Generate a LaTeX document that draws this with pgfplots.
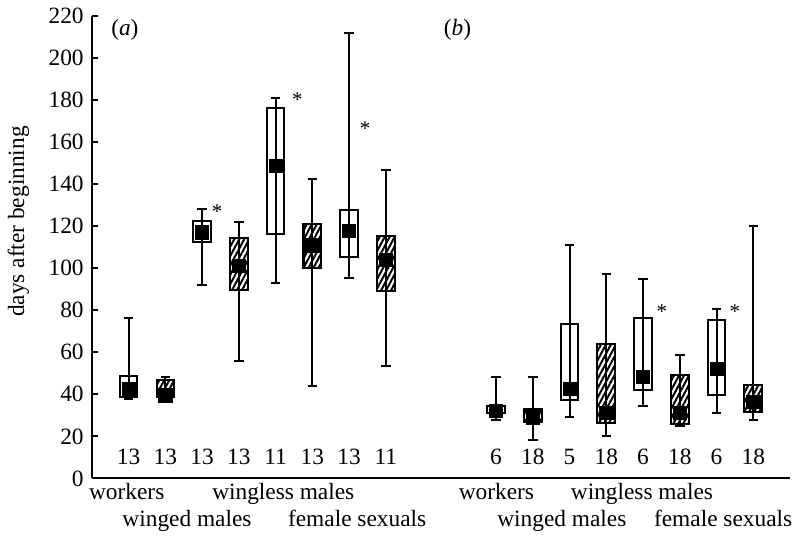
\documentclass[border=0pt]{standalone}
\usepackage{fontspec}
\setmainfont{Liberation Serif}
\usepackage{pgfplots}
\pgfplotsset{compat=1.18}
\usepgfplotslibrary{statistics}
\usetikzlibrary{patterns.meta}
\pgfplotsset{
  openbox/.style={black, line width=1bp, solid, boxplot/every box/.style={fill=none}},
  hatchbox/.style={black, line width=1bp, solid,
    boxplot/every box/.style={pattern={Lines[angle=62,distance=2.2pt,line width=1pt]}}},
  midline/.style={black, line width=1bp, solid, mark=none, forget plot},
}
\begin{document}
\fontsize{11.7}{14}\selectfont
\begin{tikzpicture}
\begin{axis}[
  scale only axis, width=348.5bp, height=231bp,
  xmin=0, xmax=19, ymin=0, ymax=220,
  axis lines*=left,
  axis line style={line width=1bp},
  xtick=\empty,
  ytick={0,20,...,220},
  tick align=inside,
  major tick length=3bp,
  tick style={line width=1bp, black},
  font=\fontsize{11.7}{14}\selectfont,
  ticklabel style={font=\fontsize{11.7}{14}\selectfont},
  /pgf/number format/assume math mode=true,
  ylabel={days after beginning},
  ylabel style={at={(axis description cs:-0.105,0.555)}, anchor=center},
  clip=false,
  boxplot/draw direction=y,
  boxplot/box extend=0.48,
  boxplot/whisker extend=0.26,
  boxplot/draw/median/.code={},
]
% ---- panel (a)
\addplot[openbox, boxplot prepared={draw position=1, lower whisker=37.8, lower quartile=38.6, median=42.5, upper quartile=48.6, upper whisker=76.3}] coordinates {};
\addplot[hatchbox, boxplot prepared={draw position=2, lower whisker=38.6, lower quartile=38.8, median=39.5, upper quartile=47, upper whisker=48}] coordinates {};
\addplot[openbox, boxplot prepared={draw position=3, lower whisker=92.2, lower quartile=112.4, median=117, upper quartile=122.2, upper whisker=128}] coordinates {};
\addplot[hatchbox, boxplot prepared={draw position=4, lower whisker=55.6, lower quartile=89.7, median=101, upper quartile=114.1, upper whisker=122}] coordinates {};
\addplot[openbox, boxplot prepared={draw position=5, lower whisker=93, lower quartile=116, median=148.4, upper quartile=175.9, upper whisker=181}] coordinates {};
\addplot[hatchbox, boxplot prepared={draw position=6, lower whisker=44.1, lower quartile=100.1, median=110.8, upper quartile=121.1, upper whisker=142.2}] coordinates {};
\addplot[openbox, boxplot prepared={draw position=7, lower whisker=95.2, lower quartile=105.2, median=117.6, upper quartile=127.8, upper whisker=211.6}] coordinates {};
\addplot[hatchbox, boxplot prepared={draw position=8, lower whisker=53.3, lower quartile=89, median=104, upper quartile=115.1, upper whisker=146.5}] coordinates {};
% ---- panel (b)
\addplot[openbox, boxplot prepared={draw position=11, lower whisker=27.9, lower quartile=31.1, median=32.2, upper quartile=34.3, upper whisker=48.1}] coordinates {};
\addplot[hatchbox, boxplot prepared={draw position=12, lower whisker=18.4, lower quartile=27, median=29, upper quartile=33, upper whisker=48}] coordinates {};
\addplot[openbox, boxplot prepared={draw position=13, lower whisker=29, lower quartile=37.3, median=42.4, upper quartile=73.2, upper whisker=111.1}] coordinates {};
\addplot[hatchbox, boxplot prepared={draw position=14, lower whisker=20.3, lower quartile=26.3, median=31.1, upper quartile=64, upper whisker=97}] coordinates {};
\addplot[openbox, boxplot prepared={draw position=15, lower whisker=34.6, lower quartile=42, median=48.4, upper quartile=76.3, upper whisker=94.9}] coordinates {};
\addplot[hatchbox, boxplot prepared={draw position=16, lower whisker=24.9, lower quartile=25.9, median=31.1, upper quartile=49.4, upper whisker=58.9}] coordinates {};
\addplot[openbox, boxplot prepared={draw position=17, lower whisker=31.1, lower quartile=39.7, median=52, upper quartile=75.1, upper whisker=80.6}] coordinates {};
\addplot[hatchbox, boxplot prepared={draw position=18, lower whisker=27.9, lower quartile=31.4, median=36.5, upper quartile=44.6, upper whisker=119.8}] coordinates {};
% whisker line running through each box (lower to upper quartile)
\addplot[midline] coordinates {(1,38.6) (1,48.6)};
\addplot[midline] coordinates {(2,38.8) (2,47)};
\addplot[midline] coordinates {(3,112.4) (3,122.2)};
\addplot[midline] coordinates {(4,89.7) (4,114.1)};
\addplot[midline] coordinates {(5,116) (5,175.9)};
\addplot[midline] coordinates {(6,100.1) (6,121.1)};
\addplot[midline] coordinates {(7,105.2) (7,127.8)};
\addplot[midline] coordinates {(8,89) (8,115.1)};
\addplot[midline] coordinates {(11,31.1) (11,34.3)};
\addplot[midline] coordinates {(12,27) (12,33)};
\addplot[midline] coordinates {(13,37.3) (13,73.2)};
\addplot[midline] coordinates {(14,26.3) (14,64)};
\addplot[midline] coordinates {(15,42) (15,76.3)};
\addplot[midline] coordinates {(16,25.9) (16,49.4)};
\addplot[midline] coordinates {(17,39.7) (17,75.1)};
\addplot[midline] coordinates {(18,31.4) (18,44.6)};
% medians
\addplot[only marks, mark=square*, mark size=3.3bp, black] coordinates {
 (1,42.5) (2,39.5) (3,117) (4,101) (5,148.4) (6,110.8) (7,117.6) (8,104)
 (11,32.2) (12,29) (13,42.4) (14,31.1) (15,48.4) (16,31.1) (17,52) (18,36.5)};
% significance stars
\addplot[only marks, mark=text, text mark={*}, text mark as node=true,
  text mark style={font=\fontsize{10.5}{12}\selectfont, inner sep=0pt}] coordinates {
 (3.41,127) (5.59,180) (7.44,166.5) (15.51,79.5) (17.5,79.5)};
% counts
\foreach \x/\n in {1/13,2/13,3/13,4/13,5/11,6/13,7/13,8/11,11/6,12/18,13/5,14/18,15/6,16/18,17/6,18/18}{
  \edef\tmp{\noexpand\node[anchor=base] at (axis cs:\x,6.8) {\n};}\tmp
}
% panel labels
\node[anchor=base] at (axis cs:0.9,210.5) {(\textit{a})};
\node[anchor=base] at (axis cs:9.95,210.5) {(\textit{b})};
% category labels
\node[anchor=base] at (axis cs:0.95,-10) {workers};
\node[anchor=base] at (axis cs:2.59,-22.9) {winged males};
\node[anchor=base] at (axis cs:5.21,-10) {wingless males};
\node[anchor=base] at (axis cs:7.22,-22.9) {female sexuals};
\node[anchor=base] at (axis cs:11.01,-10) {workers};
\node[anchor=base] at (axis cs:12.79,-22.9) {winged males};
\node[anchor=base] at (axis cs:14.97,-10) {wingless males};
\node[anchor=base] at (axis cs:17.18,-22.9) {female sexuals};
\end{axis}
\end{tikzpicture}
\end{document}
